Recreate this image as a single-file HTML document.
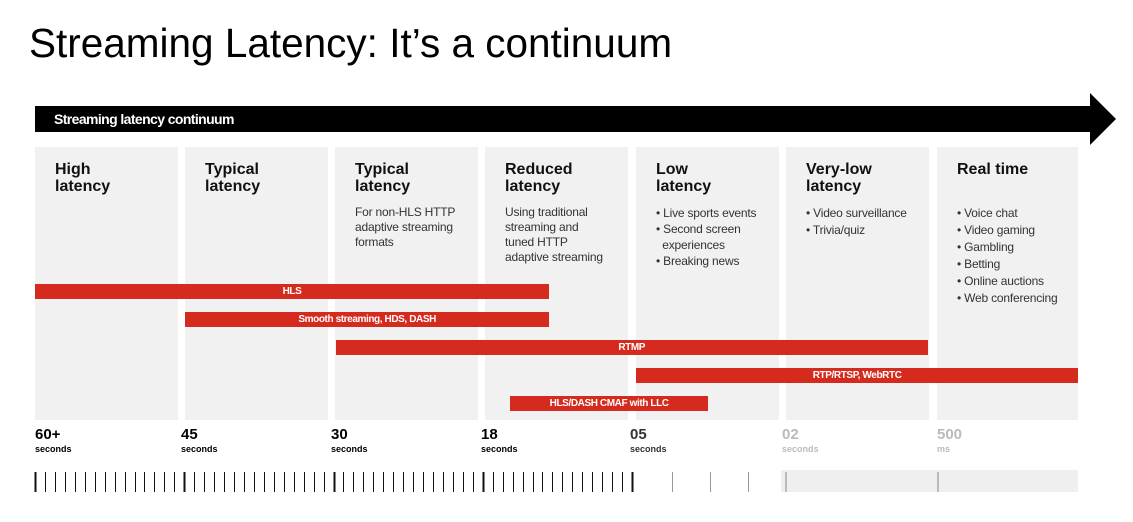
<!DOCTYPE html>
<html><head><meta charset="utf-8"><style>
body{margin:0;width:1133px;height:522px;background:#fff;position:relative;overflow:hidden;font-family:"Liberation Sans",sans-serif;}
.abs{position:absolute;}
.col{position:absolute;top:147px;height:273px;width:143px;background:#f1f1f1;}
.h{position:absolute;left:20px;top:14px;font-weight:bold;font-size:16px;line-height:17px;color:#111;}
.d{position:absolute;left:20px;top:58px;font-size:12px;line-height:15px;color:#333;letter-spacing:-0.2px;}
.d div{white-space:nowrap}
.bar{position:absolute;height:15px;background:#d52b1e;color:#fff;font-weight:bold;font-size:10px;line-height:15px;text-align:center;letter-spacing:-0.4px;}
.tl{position:absolute;top:427px;font-weight:bold;font-size:15px;line-height:16px;}
.tl span{display:block;font-size:9px;line-height:12px;font-weight:bold;}
</style></head><body>
<div class="abs" style="left:29px;top:20px;font-size:40.5px;color:#000;">Streaming Latency: It’s a continuum</div>
<svg class="abs" style="left:0;top:0" width="1133" height="522">
<rect x="35" y="106" width="1060" height="26" fill="#000"/>
<polygon points="1090,93 1116,119 1090,145" fill="#000"/>
</svg>
<div class="abs" style="left:54px;top:111px;color:#fff;font-weight:bold;font-size:14px;letter-spacing:-0.6px;">Streaming latency continuum</div>

<div class="col" style="left:35px"><div class="h">High<br>latency</div></div>
<div class="col" style="left:185px"><div class="h">Typical<br>latency</div></div>
<div class="col" style="left:335px"><div class="h">Typical<br>latency</div><div class="d"><div>For non-HLS HTTP</div><div>adaptive streaming</div><div>formats</div></div></div>
<div class="col" style="left:485px"><div class="h">Reduced<br>latency</div><div class="d"><div>Using traditional</div><div>streaming and</div><div>tuned HTTP</div><div>adaptive streaming</div></div></div>
<div class="col" style="left:636px"><div class="h">Low<br>latency</div><div class="d" style="line-height:16px"><div>• Live sports events</div><div>• Second screen</div><div>&nbsp;&nbsp;experiences</div><div>• Breaking news</div></div></div>
<div class="col" style="left:786px"><div class="h">Very-low<br>latency</div><div class="d" style="line-height:17px"><div>• Video surveillance</div><div>• Trivia/quiz</div></div></div>
<div class="col" style="left:937px;width:141px"><div class="h">Real time</div><div class="d" style="line-height:17px"><div>• Voice chat</div><div>• Video gaming</div><div>• Gambling</div><div>• Betting</div><div>• Online auctions</div><div>• Web conferencing</div></div></div>

<div id="bars"></div>

<div class="tl" style="left:35px;color:#000">60+<span>seconds</span></div>
<div class="tl" style="left:181px;color:#000">45<span>seconds</span></div>
<div class="tl" style="left:331px;color:#000">30<span>seconds</span></div>
<div class="tl" style="left:481px;color:#000">18<span>seconds</span></div>
<div class="tl" style="left:630px;color:#333">05<span>seconds</span></div>
<div class="tl" style="left:782px;color:#bbb">02<span>seconds</span></div>
<div class="tl" style="left:937px;color:#bbb">500<span>ms</span></div>

<svg id="ruler" class="abs" style="left:0;top:0" width="1133" height="522"></svg>

<script>
// bars: start/end in column units (col 0 left edge = 0, each column = 1 unit)
const barLabels=["HLS","Smooth streaming, HDS, DASH","RTMP","RTP/RTSP, WebRTC","HLS/DASH CMAF with LLC"];
const barStarts=[0,1,2,4,3.16];
const barEnds=[3.42,3.42,5.94,6.94,4.48];
const colX=u=>35+u*150.3;
const rowY=i=>284+i*28;
const host=document.getElementById('bars');
for(let i=0;i<barLabels.length;i++){
  const b=document.createElement('div');
  b.className='bar';
  
  
  b.style.left=colX(barStarts[i])+'px';
  b.style.width=(colX(barEnds[i])-colX(barStarts[i]))+'px';
  b.style.top=rowY(i)+'px';
  b.textContent=barLabels[i];
  host.appendChild(b);
}
// ruler
const svg=document.getElementById('ruler');
const NS='http://www.w3.org/2000/svg';
const bg=document.createElementNS(NS,'rect');
bg.setAttribute('x',781);bg.setAttribute('y',470);bg.setAttribute('width',297);bg.setAttribute('height',22);bg.setAttribute('fill','#efefef');
svg.appendChild(bg);
function tick(x,c,w){const l=document.createElementNS(NS,'line');l.setAttribute('x1',x);l.setAttribute('x2',x);l.setAttribute('y1',472);l.setAttribute('y2',492);l.setAttribute('stroke',c);l.setAttribute('stroke-width',w);svg.appendChild(l);}
for(let k=0;k<=60;k++){const x=Math.round(35+k*9.95)+0.5;const major=k%15===0;tick(x,'#111',major?2:1);}
[672.5,710.5,748.5].forEach(x=>tick(x,'#999',1));
[786,938].forEach(x=>tick(x,'#bbb',2));
</script>
</body></html>
